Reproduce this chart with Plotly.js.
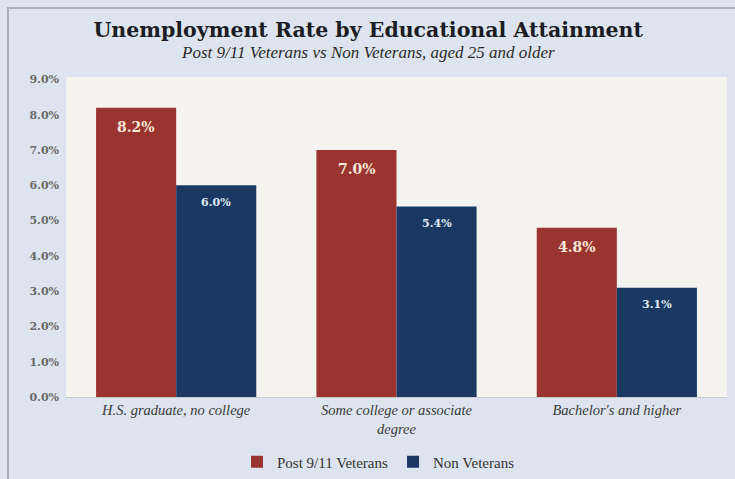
<!DOCTYPE html>
<html>
<head>
<meta charset="utf-8">
<script src="https://cdn.plot.ly/plotly-3.0.1.min.js"></script>
<style>
  html, body { margin: 0; padding: 0; background: #dee4ef; overflow: hidden; }
  #wrap { position: relative; width: 735px; height: 479px; }
  #chart { width: 735px; height: 479px; }
  #frame { position: absolute; left: 7px; top: 7px; width: 740px; height: 480px;
           border-left: 2px solid #a9b0bd; border-top: 2px solid #a9b0bd; pointer-events: none; }
</style>
</head>
<body>
<div id="wrap"><div id="chart"></div><div id="frame"></div></div>
<script>
const categories = ["H.S. graduate, no college", "Some college or associate<br>degree", "Bachelor's and higher"];
const veterans = [8.2, 7.0, 4.8];
const nonVeterans = [6.0, 5.4, 3.1];
const seriesNames = ["Post 9/11 Veterans", "Non Veterans"];
const yTicks = [0, 1, 2, 3, 4, 5, 6, 7, 8, 9];

const RED = "#9a3430";
const NAVY = "#1b3862";
const SERIF = "'DejaVu Serif', Georgia, serif";
const SERIF2 = "'Liberation Serif', 'Times New Roman', serif";

const traces = [
  { type: "bar", name: seriesNames[0], x: categories, y: veterans,
    marker: { color: RED }, hoverinfo: "none" },
  { type: "bar", name: seriesNames[1], x: categories, y: nonVeterans,
    marker: { color: NAVY }, hoverinfo: "none" }
];

const annotations = [];
veterans.forEach((v, i) => annotations.push({
  x: categories[i], y: v, xref: "x", yref: "y", xshift: -40, yshift: -19,
  text: v.toFixed(1) + "%", showarrow: false,
  font: { family: SERIF, size: 14, color: "#f6e7d6", weight: "bold" }
}));
nonVeterans.forEach((v, i) => annotations.push({
  x: categories[i], y: v, xref: "x", yref: "y", xshift: 40, yshift: -17,
  text: v.toFixed(1) + "%", showarrow: false,
  font: { family: SERIF, size: 11, color: "#dfe8f5", weight: "bold" }
}));
annotations.push({
  xref: "paper", yref: "paper", x: (368 - 66) / 661, y: (397 - 52) / 320,
  xanchor: "center", yanchor: "middle", showarrow: false,
  text: "<i>Post 9/11 Veterans vs Non Veterans, aged 25 and older</i>",
  font: { family: SERIF2, size: 17, color: "#2b2b2b" }
});

const layout = {
  width: 735, height: 479,
  paper_bgcolor: "#dee4ef",
  plot_bgcolor: "#f4f3ef",
  margin: { l: 66, r: 8, t: 77, b: 82 },
  title: { text: "<b>Unemployment Rate by Educational Attainment</b>",
           xref: "container", yref: "container", x: 0.501, y: 1 - 30/479,
           xanchor: "center", yanchor: "middle",
           font: { family: SERIF, size: 20.5, color: "#1c1c24" } },
  barmode: "group",
  bargap: 0.273,
  bargroupgap: 0,
  xaxis: {
    showgrid: false, zeroline: false, showline: true, linecolor: "#c9c9c9", linewidth: 1,
    ticks: "", tickfont: { family: SERIF2, size: 14.5, color: "#3a3a3a", style: "italic" },
    fixedrange: true
  },
  yaxis: {
    range: [0, 9.07], tickvals: yTicks, ticktext: yTicks.map(t => t.toFixed(1) + "%"),
    showgrid: false, zeroline: false, showline: false, ticks: "",
    tickfont: { family: SERIF, size: 11, color: "#6a6a6a", weight: "bold" },
    ticklabelstandoff: 6, fixedrange: true
  },
  legend: {
    orientation: "h", xref: "container", yref: "container",
    x: 0.515, y: 1 - 462/479, xanchor: "center", yanchor: "middle",
    font: { family: SERIF2, size: 15, color: "#333" },
    bgcolor: "rgba(0,0,0,0)", itemwidth: 30, tracegroupgap: 0
  },
  annotations: annotations,
  showlegend: true
};

Plotly.newPlot("chart", traces, layout, { displayModeBar: false, staticPlot: true });
</script>
</body>
</html>
